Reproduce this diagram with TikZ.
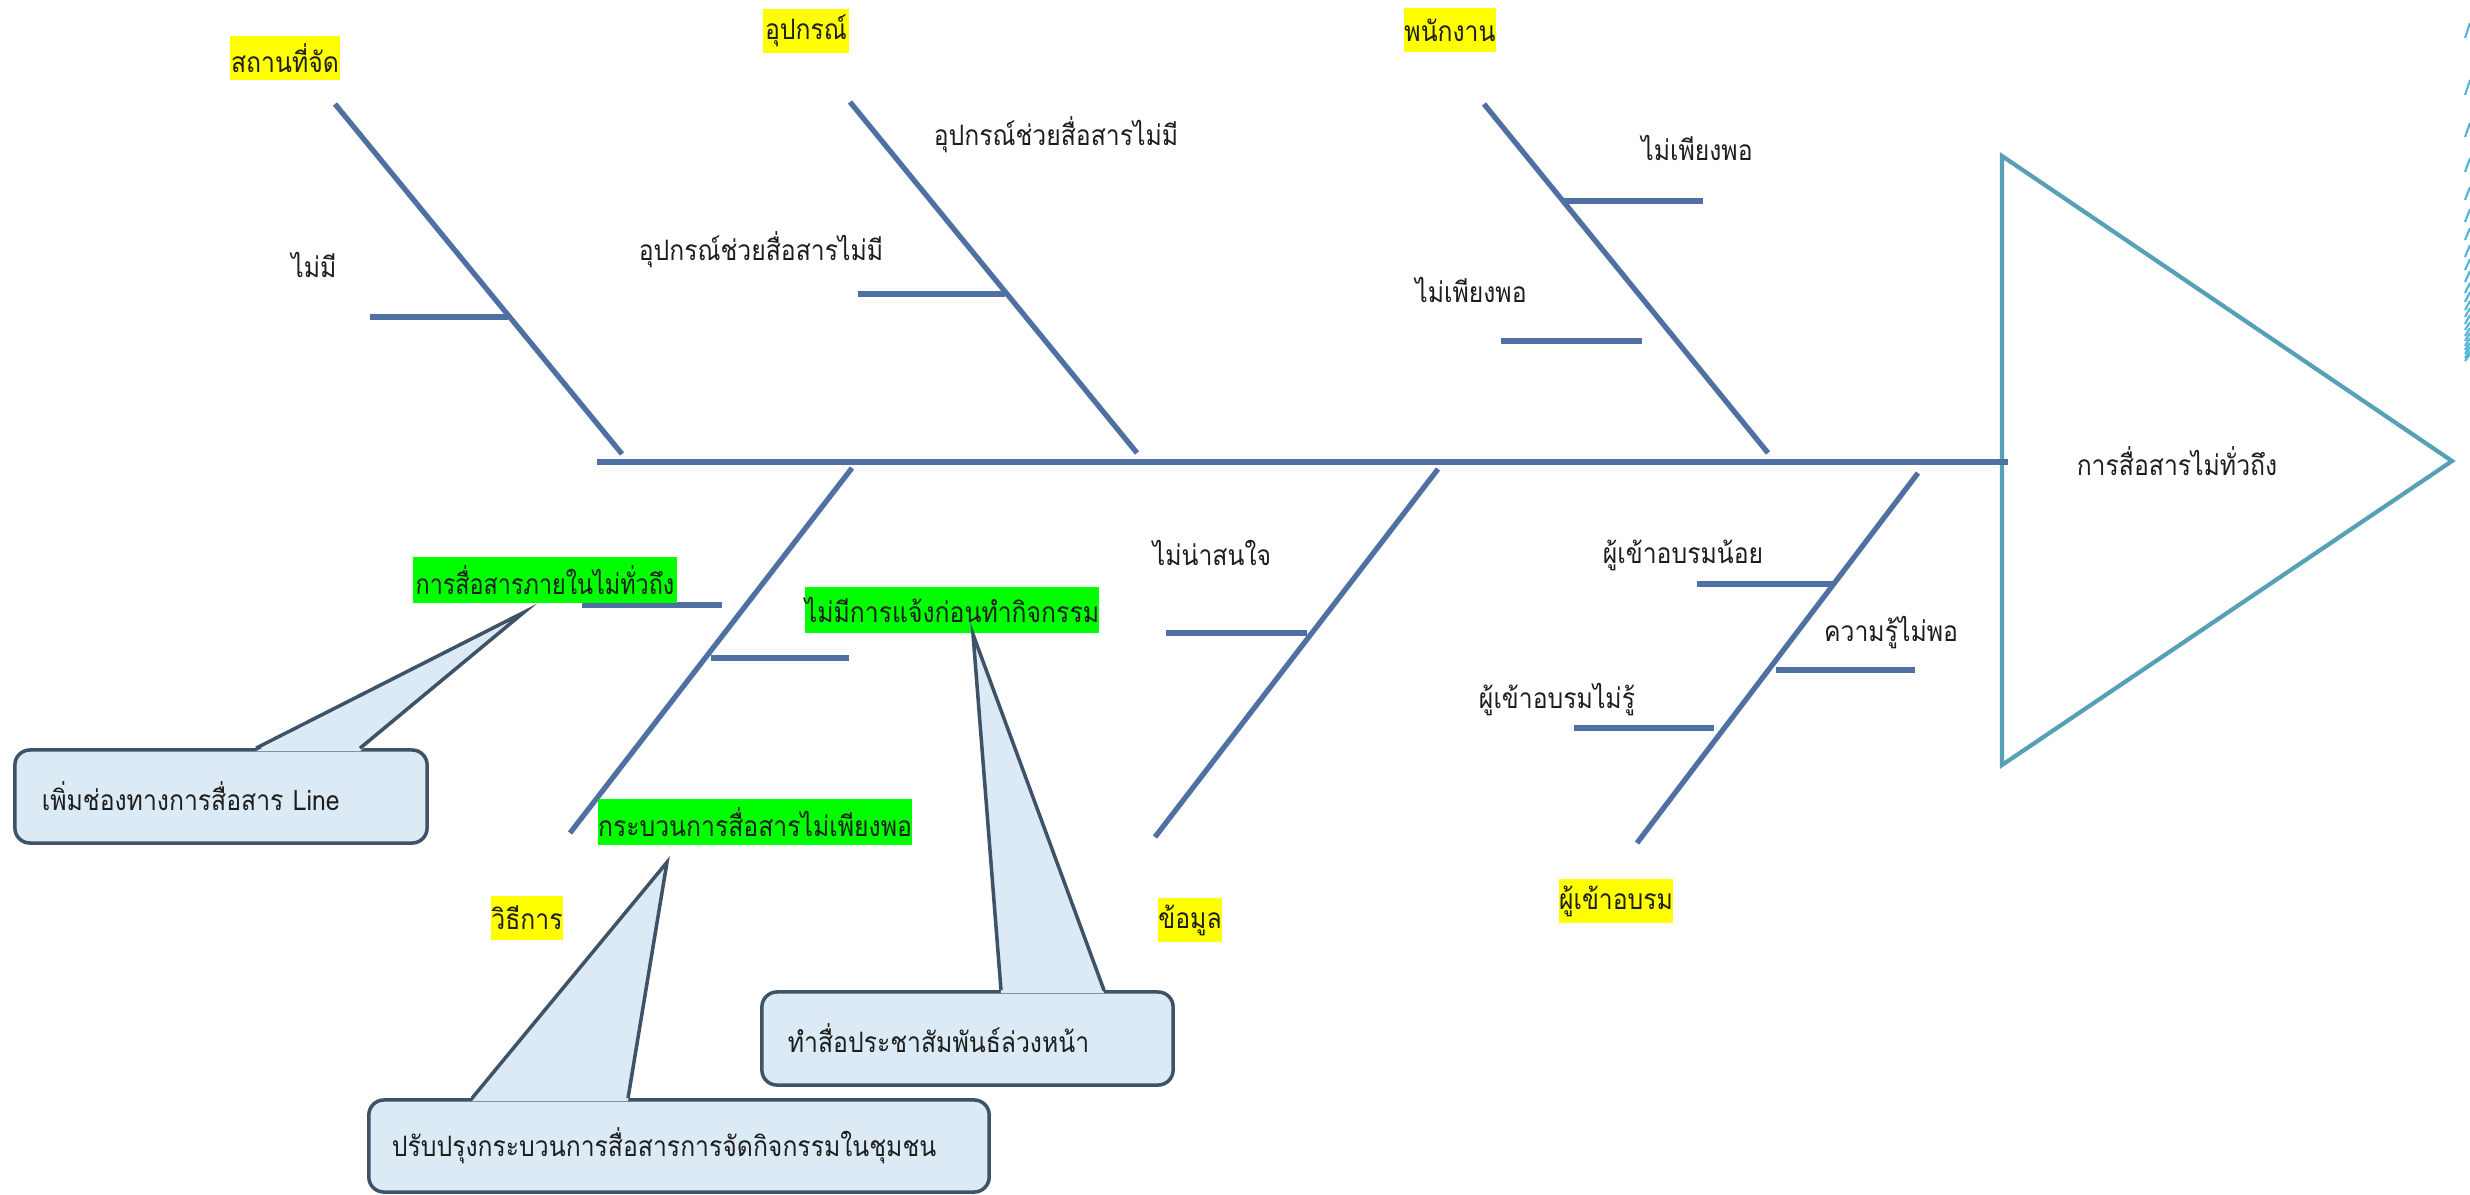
\documentclass[tikz,border=0pt]{standalone}
\usepackage{fontspec}
\newfontfamily\thaifont[Script=Thai,FakeStretch=0.88]{Loma}
\newfontfamily\thaicond[Script=Thai,FakeStretch=0.83]{Loma}
\usetikzlibrary{calc}
\definecolor{bone}{RGB}{79,112,163}
\definecolor{tri}{RGB}{86,160,184}
\definecolor{cfill}{RGB}{219,234,244}
\definecolor{cborder}{RGB}{62,83,104}
\definecolor{hlyellow}{RGB}{255,255,0}
\definecolor{hlgreen}{RGB}{0,255,0}
\definecolor{deco}{RGB}{80,180,215}
\definecolor{txt}{RGB}{30,30,30}
\begin{document}
\begin{tikzpicture}[x=0.01cm,y=-0.01cm,
  font=\thaifont\fontsize{8}{9.5}\selectfont, text=txt,
  bonel/.style={draw=bone, line width=1.5pt},
  lbl/.style={inner sep=0pt},
  cat/.style={fill=hlyellow, inner sep=0pt, minimum height=0.44cm},
  grn/.style={fill=hlgreen, inner sep=0pt, minimum height=0.45cm},
  callout/.style={draw=cborder, fill=cfill, line width=1pt, rounded corners=0.15cm,
    align=left, inner ysep=0pt},
  ptr/.style={draw=cborder, line width=1pt, line join=miter}]
\useasboundingbox (0,0) rectangle (2470,1194);

% ---------- spine and head ----------
\coordinate (sp0) at (597,462);
\coordinate (sp1) at (2008,462);
\coordinate (h1) at (2002,156);
\coordinate (h2) at (2452,461);
\coordinate (h3) at (2002,765);
\draw[draw=tri, line width=1.2pt, line join=miter] (h1) -- (h2) -- (h3) -- cycle;
\draw[bonel] (sp0) -- (sp1);
\node[lbl] (head) at (2177,461) {การสื่อสารไม่ทั่วถึง};

% ---------- bones ----------
\coordinate (b1t) at (335,104);  \coordinate (b1b) at (622,454);
\coordinate (b2t) at (850,102);  \coordinate (b2b) at (1137,453);
\coordinate (b3t) at (1484,104); \coordinate (b3b) at (1768,453);
\coordinate (b4t) at (852,468);  \coordinate (b4b) at (570,833);
\coordinate (b5t) at (1438,469); \coordinate (b5b) at (1155,837);
\coordinate (b6t) at (1918,473); \coordinate (b6b) at (1637,843);
\foreach \b in {1,...,6} \draw[bonel] (b\b t) -- (b\b b);

% sub-bones
\coordinate (s1a) at (370,317);  \coordinate (s1b) at (508,317);
\coordinate (s2a) at (858,294);  \coordinate (s2b) at (1005,294);
\coordinate (s3a) at (1563,201); \coordinate (s3b) at (1703,201);
\coordinate (s4a) at (1501,341); \coordinate (s4b) at (1642,341);
\coordinate (s5a) at (582,605);  \coordinate (s5b) at (722,605);
\coordinate (s6a) at (711,658);  \coordinate (s6b) at (849,658);
\coordinate (s7a) at (1166,633); \coordinate (s7b) at (1307,633);
\coordinate (s8a) at (1697,584); \coordinate (s8b) at (1834,584);
\coordinate (s9a) at (1776,670); \coordinate (s9b) at (1915,670);
\coordinate (s10a) at (1574,728); \coordinate (s10b) at (1714,728);
\foreach \s in {1,...,10} \draw[bonel] (s\s a) -- (s\s b);

% ---------- category labels ----------
\node[cat, minimum width=1.09cm] (c1) at (285,58) {สถานที่จัด};
\node[cat, minimum width=0.86cm] (c2) at (806,31) {อุปกรณ์};
\node[cat, minimum width=0.90cm] (c3) at (1450,30) {พนักงาน};
\node[cat, minimum width=0.69cm] (c4) at (527,918) {วิธีการ};
\node[cat, minimum width=0.63cm] (c5) at (1190,920) {ข้อมูล};
\node[cat, minimum width=1.14cm] (c6) at (1616,901) {ผู้เข้าอบรม};

% ---------- cause labels ----------
\node[lbl] (l1) at (314,265) {ไม่มี};
\node[lbl] (l2) at (1056,135) {อุปกรณ์ช่วยสื่อสารไม่มี};
\node[lbl] (l3) at (761,250) {อุปกรณ์ช่วยสื่อสารไม่มี};
\node[lbl] (l4) at (1697,148) {ไม่เพียงพอ};
\node[lbl] (l5) at (1471,290) {ไม่เพียงพอ};
\node[lbl] (l6) at (1212,553) {ไม่น่าสนใจ};
\node[lbl] (l7) at (1683,555) {ผู้เข้าอบรมน้อย};
\node[lbl] (l8) at (1891,633) {ความรู้ไม่พอ};
\node[lbl] (l9) at (1557,700) {ผู้เข้าอบรมไม่รู้};

% green-highlighted causes
\node[grn, minimum width=2.64cm, font=\thaicond\fontsize{8}{9.5}\selectfont] (g1) at (545,580) {การสื่อสารภายในไม่ทั่วถึง};
\node[grn, minimum width=2.92cm] (g2) at (952,610) {ไม่มีการแจ้งก่อนทำกิจกรรม};
\node[grn, minimum width=3.14cm] (g3) at (755,822) {กระบวนการสื่อสารไม่เพียงพอ};

% ---------- callouts ----------
\node[callout, inner xsep=0.27cm, text width=3.58cm, minimum height=0.93cm] (k1) at (221,796.5) {เพิ่มช่องทางการสื่อสาร Line};
\node[callout, inner xsep=0.26cm, text width=3.59cm, minimum height=0.93cm] (k2) at (967.5,1038.5) {ทำสื่อประชาสัมพันธ์ล่วงหน้า};
\node[callout, inner xsep=0.23cm, text width=5.74cm, minimum height=0.92cm] (k3) at (679,1146) {ปรับปรุงกระบวนการสื่อสารการจัดกิจกรรมในชุมชน};

\coordinate (t1) at ($(g1.south)+(-21,9)$);
\coordinate (t2) at ($(g2.south)+(21,1)$);
\coordinate (t3) at ($(g3.south)+(-88,17)$);
\coordinate (p1a) at (k1.north -| 256,0); \coordinate (p1b) at (k1.north -| 360,0);
\coordinate (p2a) at (k2.north -| 1001,0); \coordinate (p2b) at (k2.north -| 1104,0);
\coordinate (p3a) at (k3.north -| 472,0); \coordinate (p3b) at (k3.north -| 628,0);
\foreach \i in {1,2,3} {
  \fill[cfill] ($(p\i a)+(0,3)$) -- (t\i) -- ($(p\i b)+(0,3)$) -- cycle;
  \draw[ptr] (p\i a) -- (t\i) -- (p\i b);
}

% ---------- decorative strokes at right edge ----------
\foreach \y/\h in {38/15,95/15,137/14,172/14,200/13,222/13,240/12,257/12,270/11,282/11,293/10,302/10,310/9,317/9,324/9,330/8,336/8,341/8,346/8,350/7,354/7,358/7,361/7}
  \draw[deco, line width=0.6pt] (2465,\y) -- (2470,{\y-\h});
\end{tikzpicture}
\end{document}
